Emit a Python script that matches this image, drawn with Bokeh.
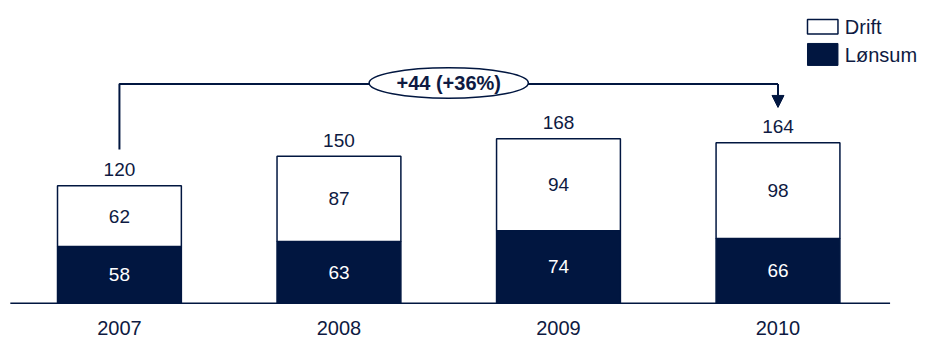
from bokeh.plotting import figure
from bokeh.models import Range1d, ColumnDataSource, Arrow, NormalHead
from bokeh.core.properties import value
from bokeh.embed import file_html
from bokeh.resources import INLINE

# ---- data ----
years = ["2007", "2008", "2009", "2010"]
lonnsum = [58, 63, 74, 66]
drift = [62, 87, 94, 98]
series_names = ["Drift", "Lønsum"]

totals = [a + b for a, b in zip(lonnsum, drift)]
diff = totals[-1] - totals[0]
pct = int(100 * diff / totals[0])
change_label = f"+{diff} (+{pct}%)"

# ---- layout constants ----
W, H = 922, 338
REF_W, REF_H = 938, 354
PX_PER_CAT = 223.33
PX_PER_UNIT = 1.025
NAVY = "#011640"
TXT = "#0E1A42"
FONT = "Liberation Sans"


def fx(px):  # reference px -> data x
    return (px - 121) / PX_PER_CAT


def fy(py):  # reference px -> data y
    return (317 - py) / PX_PER_UNIT


p = figure(width=W, height=H, x_range=Range1d(fx(0), fx(REF_W)),
           y_range=Range1d(fy(REF_H), fy(0)),
           output_backend="svg", toolbar_location=None,
           x_axis_location=None, y_axis_location=None,
           min_border_left=0, min_border_right=0, min_border_top=0, min_border_bottom=0)
p.outline_line_color = None
p.grid.visible = False

idx = list(range(len(years)))
src = ColumnDataSource(dict(
    x=idx, year=years, lonn=lonnsum, drift=drift, total=totals,
    lonn_mid=[v / 2 for v in lonnsum],
    drift_mid=[l + d / 2 for l, d in zip(lonnsum, drift)],
    total_pos=[t + 16.5 for t in totals],
    lonn_s=[str(v) for v in lonnsum],
    drift_s=[str(v) for v in drift],
    total_s=[str(v) for v in totals],
))

BAR_W = 126 / PX_PER_CAT
p.vbar(x="x", width=BAR_W, bottom=0, top="lonn", source=src,
       fill_color=NAVY, line_color=NAVY, line_width=1.5)
p.vbar(x="x", width=BAR_W, bottom="lonn", top="total", source=src,
       fill_color="white", line_color=NAVY, line_width=1.5)

# baseline
p.segment(x0=fx(10), y0=0, x1=fx(905), y1=0, line_color=NAVY, line_width=1.5)

common = dict(text_align="center", text_baseline="middle",
              text_font=value(FONT), text_font_size="19px")
p.text(x="x", y="lonn_mid", text="lonn_s", source=src, text_color="white", **common)
p.text(x="x", y="drift_mid", text="drift_s", source=src, text_color=TXT, **common)
p.text(x="x", y="total_pos", text="total_s", source=src, text_color=TXT, **common)
p.text(x="x", y=fy(343), text="year", source=src, text_color=TXT,
       text_align="center", text_baseline="middle",
       text_font=value(FONT), text_font_size="20px")

# bracket
top = max(totals) + 56
p.line(x=[idx[0], idx[0], idx[-1]], y=[totals[0] + 37, top, top],
       line_color=NAVY, line_width=2)
p.add_layout(Arrow(end=NormalHead(size=12, fill_color=NAVY, line_color=NAVY),
                   x_start=idx[-1], y_start=top, x_end=idx[-1], y_end=totals[-1] + 36,
                   line_color=NAVY, line_width=2))
mid = (idx[0] + idx[-1]) / 2
p.ellipse(x=mid, y=top + 1, width=162 / PX_PER_CAT, height=32 / PX_PER_UNIT,
          fill_color="white", line_color=NAVY, line_width=1.5)
p.text(x=[mid], y=[top + 1], text=[change_label], text_align="center",
       text_baseline="middle", text_font=value(FONT), text_font_size="20px",
       text_font_style="bold", text_color=TXT)

# legend (manual)
p.quad(left=fx(821), right=fx(852), top=fy(20), bottom=fy(35),
       fill_color="white", line_color=NAVY, line_width=1.5)
p.quad(left=fx(821), right=fx(852), top=fy(45), bottom=fy(68),
       fill_color=NAVY, line_color=NAVY, line_width=1)
p.text(x=[fx(859), fx(859)], y=[fy(28), fy(57)], text=series_names,
       text_align="left", text_baseline="middle", text_font=value(FONT),
       text_font_size="20px", text_color=TXT)

open("out.html", "w").write(file_html(p, INLINE))
